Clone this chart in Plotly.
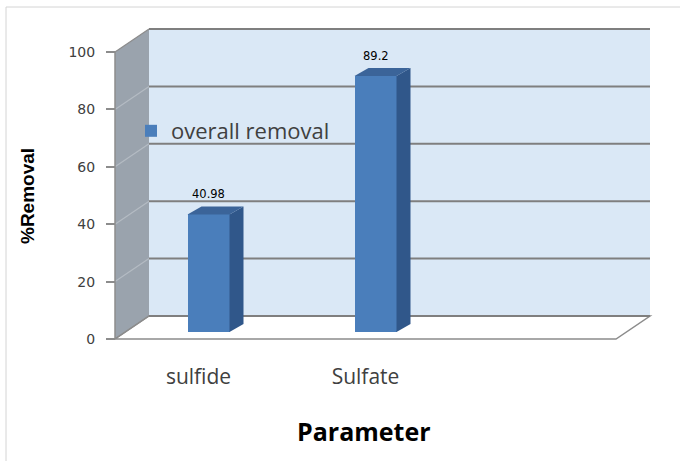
import plotly.graph_objects as go

# ---- data ----
categories = ["sulfide", "Sulfate"]
removal = [40.98, 89.2]
y_ticks = [0, 20, 40, 60, 80, 100]
series_name = "overall removal"
x_title = "Parameter"
y_title = "%Removal"

# ---- page / 3-D box geometry (pixels) ----
W, H = 680, 461
X0_PX, UNIT_X_PX = 115, 167      # left edge of front plane, px per category slot
Y0_PX, UNIT_Y_PX = 339, 2.87     # zero level of front plane, px per percent
N_SLOTS = 3                      # category slots along the floor
PLOT_L, PLOT_R, PLOT_T, PLOT_B = 100, 662, 20, 348
Y_MAX = 100


def fx(px):
    return -0.5 + (px - X0_PX) / UNIT_X_PX


def fy(px):
    return (Y0_PX - px) / UNIT_Y_PX


# depth offsets in data units
WALL_DX, WALL_DY = 34 / UNIT_X_PX, 23 / UNIT_Y_PX     # front plane -> back wall
BAR_DX0, BAR_DY0 = 10 / UNIT_X_PX, 7 / UNIT_Y_PX      # front plane -> bar face
BAR_DDX, BAR_DDY = 14 / UNIT_X_PX, 8 / UNIT_Y_PX      # bar thickness
BAR_W = 42 / UNIT_X_PX

# colours
WALL_BLUE = "#dae8f6"
SIDE_GRAY = "#9aa3ad"
GRID = "#7f7f7f"
SIDE_GRID = "#b4bbc3"
BAR_FRONT = "#4a7ebb"
BAR_SIDE = "#30578a"
BAR_TOP = "#3b6499"
TEXT = "#404040"

xr = [fx(PLOT_L), fx(PLOT_R)]
yr = [fy(PLOT_B), fy(PLOT_T)]
xdom = [PLOT_L / W, PLOT_R / W]
ydom = [1 - PLOT_B / H, 1 - PLOT_T / H]

xl, xrgt = -0.5, N_SLOTS - 0.5
shapes = []

# back wall
shapes.append(dict(type="rect", xref="x", yref="y", layer="below",
                   x0=xl + WALL_DX, x1=xrgt + WALL_DX, y0=WALL_DY, y1=Y_MAX + WALL_DY,
                   fillcolor=WALL_BLUE, line=dict(width=0)))
# left side wall
shapes.append(dict(type="path", xref="x", yref="y", layer="below",
                   path=f"M{xl},0 L{xl},{Y_MAX} L{xl + WALL_DX},{Y_MAX + WALL_DY} "
                        f"L{xl + WALL_DX},{WALL_DY} Z",
                   fillcolor=SIDE_GRAY, line=dict(width=0)))
# floor
shapes.append(dict(type="path", xref="x", yref="y", layer="below",
                   path=f"M{xl},0 L{xrgt},0 L{xrgt + WALL_DX},{WALL_DY} "
                        f"L{xl + WALL_DX},{WALL_DY} Z",
                   fillcolor="white", line=dict(color="#8c8c8c", width=1.5)))
# gridlines on back wall and side wall
for t in y_ticks:
    shapes.append(dict(type="line", xref="x", yref="y", layer="below",
                       x0=xl, x1=xl + WALL_DX, y0=t, y1=t + WALL_DY,
                       line=dict(color=SIDE_GRID if 0 < t < Y_MAX else "#8c8c8c", width=1.2)))
    shapes.append(dict(type="line", xref="x", yref="y", layer="below",
                       x0=xl + WALL_DX, x1=xrgt + WALL_DX, y0=t + WALL_DY, y1=t + WALL_DY,
                       line=dict(color=GRID, width=2)))
# front edge of the side wall (value axis line)
shapes.append(dict(type="line", xref="x", yref="y", layer="below",
                   x0=xl, x1=xl, y0=0, y1=Y_MAX, line=dict(color="#8c8c8c", width=1.5)))

# side and top faces of each bar, in the bar-plane axes
xpos = list(range(len(categories)))
for i, v in zip(xpos, removal):
    r = i + BAR_W / 2
    l = i - BAR_W / 2
    shapes.append(dict(type="path", xref="x2", yref="y2", layer="above",
                       path=f"M{r},0 L{r},{v} L{r + BAR_DDX},{v + BAR_DDY} L{r + BAR_DDX},{BAR_DDY} Z",
                       fillcolor=BAR_SIDE, line=dict(width=0)))
    shapes.append(dict(type="path", xref="x2", yref="y2", layer="above",
                       path=f"M{l},{v} L{r},{v} L{r + BAR_DDX},{v + BAR_DDY} L{l + BAR_DDX},{v + BAR_DDY} Z",
                       fillcolor=BAR_TOP, line=dict(width=0)))

# chart frame
shapes.append(dict(type="line", xref="paper", yref="paper", x0=6 / W, x1=6 / W,
                   y0=-0.01, y1=1 - 7 / H, line=dict(color="#d4d4d4", width=1)))
shapes.append(dict(type="line", xref="paper", yref="paper", x0=6 / W, x1=1.01,
                   y0=1 - 7 / H, y1=1 - 7 / H, line=dict(color="#d4d4d4", width=1)))

fig = go.Figure()
fig.add_trace(go.Bar(
    x=xpos, y=removal, width=BAR_W, name=series_name,
    xaxis="x2", yaxis="y2",
    marker=dict(color=BAR_FRONT, line=dict(width=0)),
    hovertext=categories, hoverinfo="text+y",
))

# value labels above each bar
annotations = [
    dict(xref="x2", yref="y2", x=i, y=v, text=f"{v:g}", showarrow=False,
         yshift=20, font=dict(family="DejaVu Sans", size=11.5, color="black"))
    for i, v in zip(xpos, removal)
]
# axis titles
annotations.append(dict(xref="paper", yref="paper", x=364 / W, y=1 - 431 / H,
                        xanchor="center", yanchor="middle", showarrow=False, text=x_title,
                        font=dict(family="Open Sans", size=25, color="black", weight="bold")))
annotations.append(dict(xref="paper", yref="paper", x=27 / W, y=1 - 196 / H,
                        xanchor="center", yanchor="middle", showarrow=False, text=y_title,
                        textangle=-90,
                        font=dict(family="Liberation Sans", size=19, color="black", weight="bold")))

fig.update_layout(
    width=W, height=H, autosize=False,
    margin=dict(l=0, r=0, t=0, b=0),
    paper_bgcolor="white", plot_bgcolor="rgba(0,0,0,0)",
    shapes=shapes, annotations=annotations,
    showlegend=True,
    legend=dict(x=131 / W, y=1 - 131 / H, xanchor="left", yanchor="middle",
                bgcolor="rgba(0,0,0,0)",
                font=dict(family="Open Sans", size=22, color=TEXT)),
    xaxis=dict(domain=xdom, range=xr, tickmode="array", tickvals=xpos, ticktext=categories,
               showgrid=False, zeroline=False, showline=False, ticks="",
               ticklabelstandoff=14,
               tickfont=dict(family="Open Sans", size=21, color=TEXT)),
    yaxis=dict(domain=ydom, range=yr, anchor="free", position=X0_PX / W,
               tickmode="array", tickvals=y_ticks,
               showgrid=False, zeroline=False, showline=False,
               ticks="outside", ticklen=9, tickwidth=1.5, tickcolor="#8c8c8c",
               ticklabelstandoff=8,
               tickfont=dict(family="DejaVu Sans", size=14, color=TEXT)),
    xaxis2=dict(overlaying="x", anchor="y2", range=[xr[0] - BAR_DX0, xr[1] - BAR_DX0],
                visible=False),
    yaxis2=dict(overlaying="y", anchor="x2", range=[yr[0] - BAR_DY0, yr[1] - BAR_DY0],
                visible=False),
    bargap=0,
)

fig.write_html("out.html")
